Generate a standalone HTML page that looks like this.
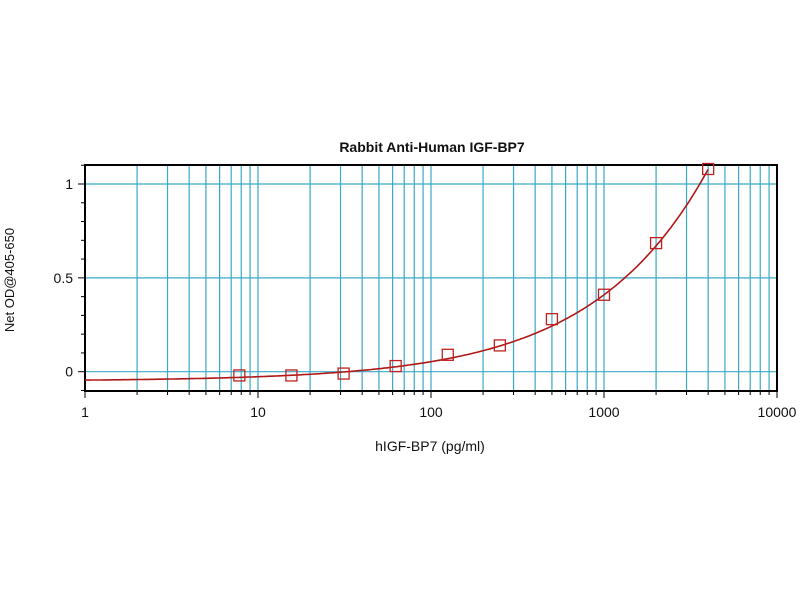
<!DOCTYPE html>
<html><head><meta charset="utf-8"><style>
body{margin:0;background:#fff;}
svg text{font-family:"Liberation Sans",Arial,sans-serif;fill:#111;}
</style></head><body>
<svg id="s" width="800" height="600" xmlns="http://www.w3.org/2000/svg">
<rect width="800" height="600" fill="#fff"/>
<text x="432" y="152" font-size="14" font-weight="bold" text-anchor="middle">Rabbit Anti-Human IGF-BP7</text>
<text x="430" y="451" font-size="14" text-anchor="middle">hIGF-BP7 (pg/ml)</text>
<text transform="translate(14,280) rotate(-90)" font-size="13" text-anchor="middle">Net OD@405-650</text>
<g id="g"></g>
</svg>
<script>
var g=document.getElementById('g'),h='';
function X(v){return 85+173*Math.log10(v);}
function Y(v){return 371.7-187.7*v;}
for(var d=0;d<4;d++)for(var k=1;k<10;k++){var v=k*Math.pow(10,d);if(v==1)continue;var x=X(v);
h+='<line x1="'+x+'" y1="165" x2="'+x+'" y2="391" stroke="#39a9c6" stroke-width="1.2"/>';}
[0,0.5,1].forEach(function(v){h+='<line x1="85" y1="'+Y(v)+'" x2="777" y2="'+Y(v)+'" stroke="#39a9c6" stroke-width="1.2"/>';});
h+='<rect x="85" y="165" width="692" height="226" fill="none" stroke="#000" stroke-width="2"/>';
for(var d=0;d<=4;d++)for(var k=1;k<10;k++){var v=k*Math.pow(10,d);if(v>10000)break;var x=X(v);
h+='<line x1="'+x+'" y1="391" x2="'+x+'" y2="'+(k==1?398:395)+'" stroke="#000" stroke-width="1"/>';}
['1','10','100','1000','10000'].forEach(function(t,i){h+='<text x="'+X(Math.pow(10,i))+'" y="417" font-size="14" text-anchor="middle">'+t+'</text>';});
for(var i=-1;i<=11;i++){var y=Y(i/10);var M=(i%5==0);
h+='<line x1="'+(M?78:81)+'" y1="'+y+'" x2="85" y2="'+y+'" stroke="#000" stroke-width="1"/>';}
[['0',0],['0.5',0.5],['1',1]].forEach(function(a){h+='<text x="73" y="'+(Y(a[1])+5)+'" font-size="14" text-anchor="end">'+a[0]+'</text>';});
var p='';for(var i=0;i<=300;i++){var lv=i*Math.log10(4000)/300;var v=Math.pow(10,lv);var yv=-0.05+0.00523*Math.pow(v,0.648);
p+=(i?'L':'M')+X(v).toFixed(1)+','+Y(yv).toFixed(1);}
h+='<path d="'+p+'" fill="none" stroke="#b01818" stroke-width="1.6"/>';
[[7.8,-0.02],[15.6,-0.02],[31.25,-0.01],[62.5,0.03],[125,0.09],[250,0.14],[500,0.28],[1000,0.41],[2000,0.685],[4000,1.08]].forEach(function(a){
h+='<rect x="'+(X(a[0])-5.5)+'" y="'+(Y(a[1])-5.5)+'" width="11" height="11" fill="none" stroke="#c02020" stroke-width="1.3"/>';});
g.innerHTML=h;
</script>
</body></html>
